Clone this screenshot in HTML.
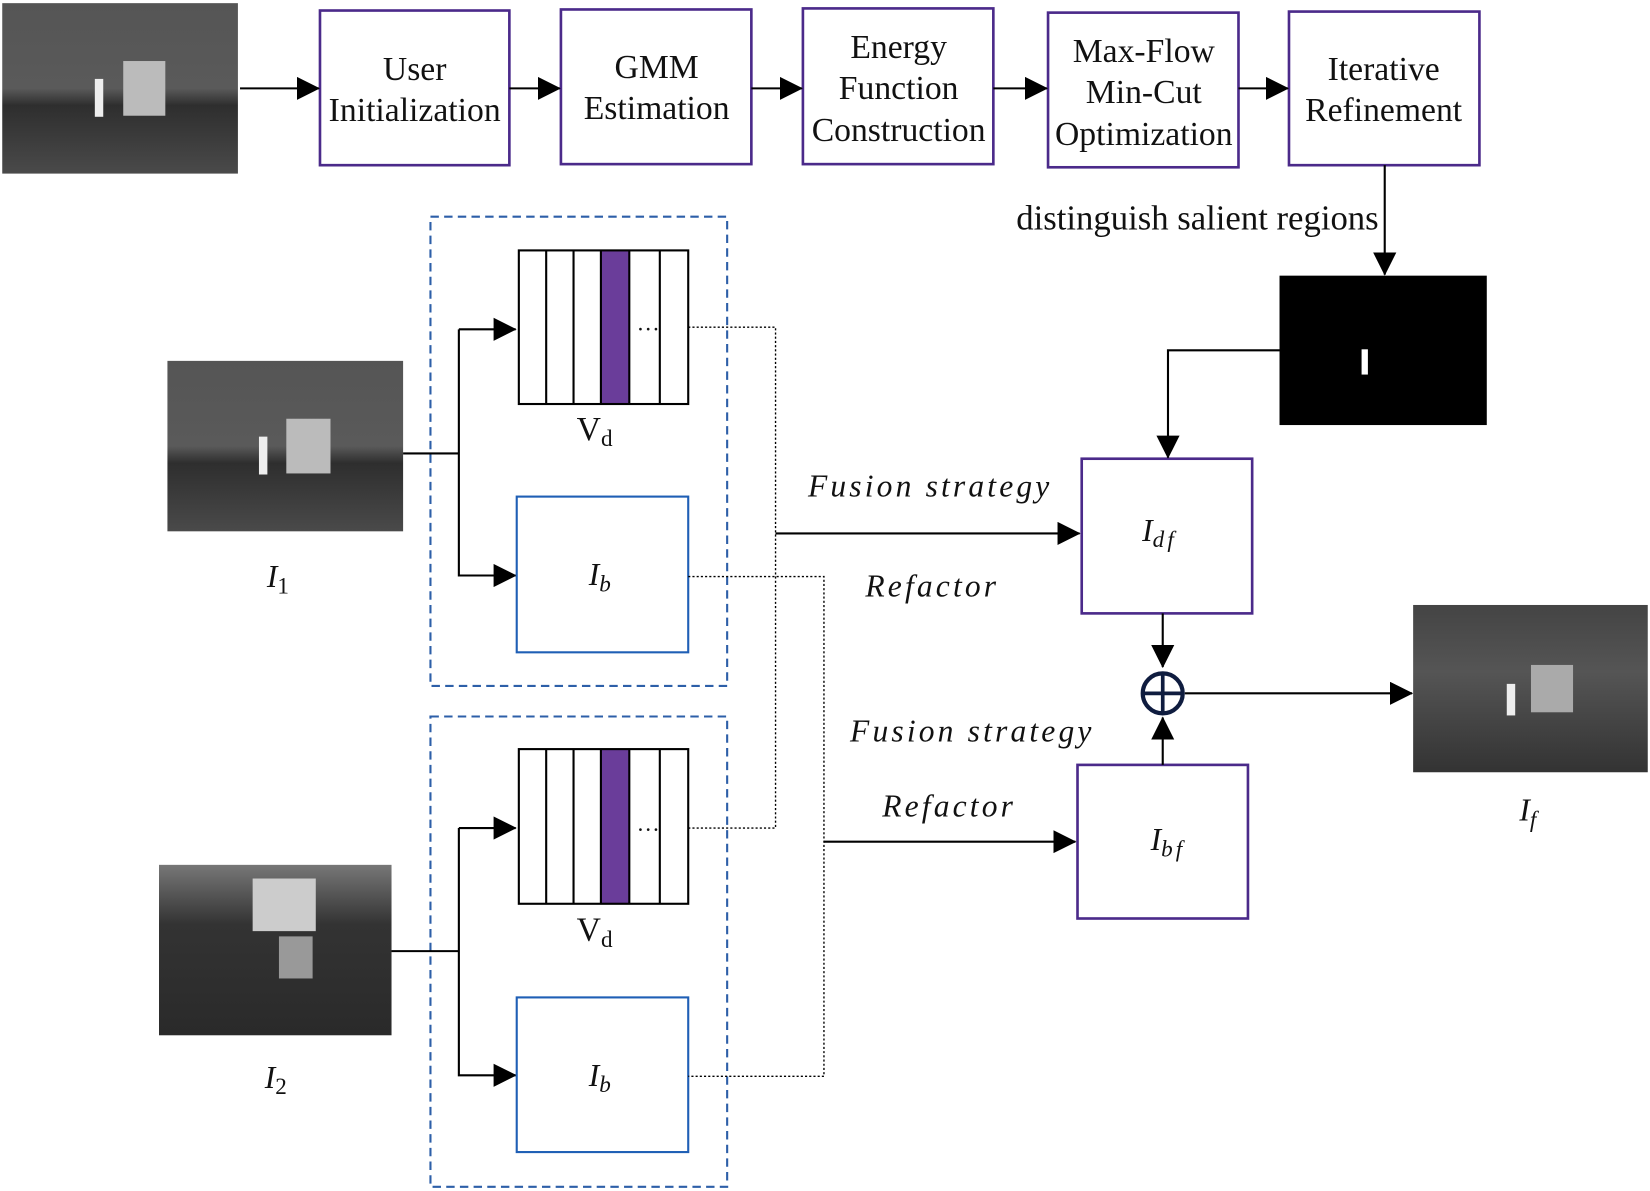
<!DOCTYPE html>
<html><head><meta charset="utf-8"><style>
html,body{margin:0;padding:0;background:#fff}
svg{display:block}
.s{font-family:"Liberation Serif",serif;font-size:32px;fill:#111;text-anchor:middle}
.i{font-family:"Liberation Serif",serif;font-style:italic;font-size:30px;fill:#111;text-anchor:middle}
.l{letter-spacing:3px}
</style></head><body>
<svg width="1650" height="1191" viewBox="0 0 1568 1132" xmlns="http://www.w3.org/2000/svg">
<defs>
<marker id="a" markerWidth="22" markerHeight="22" refX="21" refY="11" orient="auto" markerUnits="userSpaceOnUse" viewBox="0 0 22 22"><path d="M0,0 L22,11 L0,22z" fill="#000"/></marker>
<linearGradient id="th" x1="0" y1="0" x2="0" y2="1"><stop offset="0" stop-color="#555"/><stop offset="0.5" stop-color="#5a5a5a"/><stop offset="0.6" stop-color="#2e2e2e"/><stop offset="1" stop-color="#4a4a4a"/></linearGradient>
<linearGradient id="vis" x1="0" y1="0" x2="0" y2="1"><stop offset="0" stop-color="#777"/><stop offset="0.35" stop-color="#333"/><stop offset="1" stop-color="#2a2a2a"/></linearGradient>
<linearGradient id="fu" x1="0" y1="0" x2="0" y2="1"><stop offset="0" stop-color="#444"/><stop offset="0.4" stop-color="#555"/><stop offset="1" stop-color="#333"/></linearGradient>
</defs>
<g stroke="#000" stroke-width="2" fill="none">
<rect x="2" y="3" width="224" height="162" fill="url(#th)" stroke="none"/>
<rect x="117" y="58" width="40" height="52" fill="#bbb" stroke="none"/>
<rect x="90" y="75" width="8" height="36" fill="#eee" stroke="none"/>
<rect x="159" y="343" width="224" height="162" fill="url(#th)" stroke="none"/>
<rect x="272" y="398" width="42" height="52" fill="#bbb" stroke="none"/>
<rect x="246" y="415" width="8" height="36" fill="#eee" stroke="none"/>
<rect x="151" y="822" width="221" height="162" fill="url(#vis)" stroke="none"/>
<rect x="240" y="835" width="60" height="50" fill="#ccc" stroke="none"/>
<rect x="265" y="890" width="32" height="40" fill="#999" stroke="none"/>
<rect x="1216" y="262" width="197" height="142" fill="#000" stroke="none"/>
<rect x="1294" y="332" width="6" height="24" fill="#fff" stroke="none"/>
<rect x="1343" y="575" width="223" height="159" fill="url(#fu)" stroke="none"/>
<rect x="1455" y="632" width="40" height="45" fill="#aaa" stroke="none"/>
<rect x="1432" y="650" width="8" height="30" fill="#eee" stroke="none"/>
<g stroke="#4b2a8a" stroke-width="2.5">
<rect x="304" y="10" width="180" height="147"/>
<rect x="533" y="9" width="181" height="147"/>
<rect x="763" y="8" width="181" height="148"/>
<rect x="996" y="12" width="181" height="147"/>
<rect x="1225" y="11" width="181" height="146"/>
<rect x="1028" y="436" width="162" height="147"/>
<rect x="1024" y="727" width="162" height="146"/>
</g>
<line x1="228" y1="84" x2="303" y2="84" marker-end="url(#a)"/>
<line x1="484" y1="84" x2="532" y2="84" marker-end="url(#a)"/>
<line x1="714" y1="84" x2="762" y2="84" marker-end="url(#a)"/>
<line x1="944" y1="84" x2="995" y2="84" marker-end="url(#a)"/>
<line x1="1177" y1="84" x2="1224" y2="84" marker-end="url(#a)"/>
<line x1="1316" y1="157" x2="1316" y2="261" marker-end="url(#a)"/>
<polyline points="1216,333 1110,333 1110,435" marker-end="url(#a)"/>
<line x1="1105" y1="583" x2="1105" y2="634" marker-end="url(#a)"/>
<line x1="1105" y1="727" x2="1105" y2="682" marker-end="url(#a)"/>
<line x1="1126" y1="659" x2="1342" y2="659" marker-end="url(#a)"/>
<circle cx="1105" cy="659" r="19" stroke="#0f1c3f" stroke-width="4"/>
<line x1="1086" y1="659" x2="1124" y2="659" stroke="#0f1c3f" stroke-width="3.5"/>
<line x1="1105" y1="640" x2="1105" y2="678" stroke="#0f1c3f" stroke-width="3.5"/>
<rect x="409" y="206" width="282" height="446" stroke="#2d5fa8" stroke-dasharray="8,5"/>
<rect x="409" y="681" width="282" height="447" stroke="#2d5fa8" stroke-dasharray="8,5"/>
<line x1="383" y1="431" x2="436" y2="431"/>
<polyline points="436,313 436,547 490,547" marker-end="url(#a)"/>
<line x1="436" y1="313" x2="490" y2="313" marker-end="url(#a)"/>
<line x1="372" y1="904" x2="436" y2="904"/>
<polyline points="436,787 436,1022 490,1022" marker-end="url(#a)"/>
<line x1="436" y1="787" x2="490" y2="787" marker-end="url(#a)"/>
<rect x="571" y="238" width="27" height="146" fill="#6a3d9a" stroke="none"/>
<rect x="493" y="238" width="161" height="146"/>
<path d="M519,238V384M545,238V384M571,238V384M598,238V384M627,238V384"/>
<rect x="571" y="712" width="27" height="147" fill="#6a3d9a" stroke="none"/>
<rect x="493" y="712" width="161" height="147"/>
<path d="M519,712V859M545,712V859M571,712V859M598,712V859M627,712V859"/>
<rect x="491" y="472" width="163" height="148" stroke="#1f5fb5"/>
<rect x="491" y="948" width="163" height="147" stroke="#1f5fb5"/>
<g stroke-width="1.3" stroke-dasharray="2,2">
<polyline points="654,311 737,311 737,787 654,787"/>
<polyline points="654,548 783,548 783,1023 654,1023"/>
</g>
<line x1="737" y1="507" x2="1026" y2="507" marker-end="url(#a)"/>
<line x1="783" y1="800" x2="1022" y2="800" marker-end="url(#a)"/>
</g>
<text class="s" x="394" y="76">User</text>
<text class="s" x="394" y="115">Initialization</text>
<text class="s" x="624" y="74">GMM</text>
<text class="s" x="624" y="113">Estimation</text>
<text class="s" x="854" y="55">Energy</text>
<text class="s" x="854" y="94">Function</text>
<text class="s" x="854" y="134">Construction</text>
<text class="s" x="1087" y="59">Max-Flow</text>
<text class="s" x="1087" y="98">Min-Cut</text>
<text class="s" x="1087" y="138">Optimization</text>
<text class="s" x="1315" y="76">Iterative</text>
<text class="s" x="1315" y="115">Refinement</text>
<text class="s" x="1138" y="218" style="font-size:33px">distinguish salient regions</text>
<text class="s" x="616" y="314" style="font-size:22px">…</text>
<text class="s" x="616" y="790" style="font-size:22px">…</text>
<text class="s" x="565" y="418">V<tspan font-size="22" dy="6">d</tspan></text>
<text class="s" x="565" y="894">V<tspan font-size="22" dy="6">d</tspan></text>
<text class="i" x="570" y="556">I<tspan font-size="22" dy="6">b</tspan></text>
<text class="i" x="570" y="1032">I<tspan font-size="22" dy="6">b</tspan></text>
<text class="i" x="264" y="558">I<tspan font-size="22" dy="6" font-style="normal">1</tspan></text>
<text class="i" x="262" y="1034">I<tspan font-size="22" dy="6" font-style="normal">2</tspan></text>
<text class="i" x="1102" y="514">I<tspan font-size="22" dy="6" class="l">df</tspan></text>
<text class="i" x="1110" y="808">I<tspan font-size="22" dy="6" class="l">bf</tspan></text>
<text class="i" x="1452" y="780">I<tspan font-size="22" dy="6">f</tspan></text>
<text class="i l" x="884" y="472">Fusion strategy</text>
<text class="i l" x="886" y="567">Refactor</text>
<text class="i l" x="924" y="705">Fusion strategy</text>
<text class="i l" x="902" y="776">Refactor</text>
</svg>
</body></html>
